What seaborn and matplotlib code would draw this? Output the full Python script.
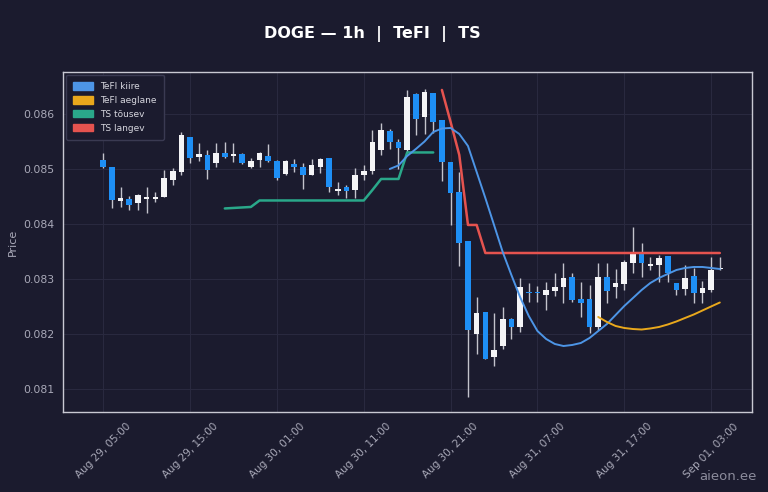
import numpy as np
import pandas as pd
import matplotlib
matplotlib.use("Agg")
import matplotlib.pyplot as plt
import matplotlib.patches as mpatches
import seaborn as sns

# ---------------- data ----------------
start_time = "2024-08-29 05:00"
n_candles = 72

opens = [0.085169, 0.085042, 0.084424, 0.084460, 0.084388, 0.084460, 0.084460, 0.084497, 0.084806, 0.084951,
         0.085587, 0.085224, 0.085260, 0.085115, 0.085296, 0.085242, 0.085278, 0.085042, 0.085169, 0.085242,
         0.085151, 0.084915, 0.085097, 0.085042, 0.084897, 0.085042, 0.085206, 0.084606, 0.084678, 0.084624,
         0.084897, 0.084969, 0.085351, 0.085696, 0.085496, 0.085351, 0.086369, 0.085951, 0.086378, 0.085896,
         0.085133, 0.084587, 0.083697, 0.082006, 0.082405, 0.081587, 0.081787, 0.082278, 0.082133, 0.082769,
         0.082769, 0.082715, 0.082787, 0.082860, 0.083042, 0.082642, 0.082642, 0.082133, 0.083042, 0.082860,
         0.082915, 0.083297, 0.083460, 0.083242, 0.083260, 0.083424, 0.082933, 0.082824, 0.083060, 0.082751,
         0.082806, 0.083187]
closes = [0.085042, 0.084442, 0.084478, 0.084351, 0.084533, 0.084497, 0.084497, 0.084842, 0.084969, 0.085624,
          0.085206, 0.085278, 0.084988, 0.085296, 0.085224, 0.085278, 0.085115, 0.085151, 0.085296, 0.085151,
          0.084842, 0.085151, 0.085042, 0.084897, 0.085078, 0.085187, 0.084678, 0.084642, 0.084606, 0.084897,
          0.084969, 0.085496, 0.085706, 0.085505, 0.085387, 0.086306, 0.085915, 0.086405, 0.085851, 0.085133,
          0.084569, 0.083660, 0.082078, 0.082387, 0.081551, 0.081715, 0.082278, 0.082133, 0.082860, 0.082751,
          0.082751, 0.082806, 0.082860, 0.083024, 0.082624, 0.082569, 0.082133, 0.083042, 0.082787, 0.082933,
          0.083315, 0.083460, 0.083297, 0.083278, 0.083387, 0.083115, 0.082806, 0.083024, 0.082751, 0.082842,
          0.083169, 0.083206]
highs = [0.085296, 0.085042, 0.084678, 0.084515, 0.084551, 0.084678, 0.084587, 0.084988, 0.085024, 0.085678,
         0.085587, 0.085478, 0.085351, 0.085478, 0.085496, 0.085478, 0.085296, 0.085206, 0.085315, 0.085460,
         0.085169, 0.085169, 0.085187, 0.085115, 0.085187, 0.085206, 0.085206, 0.084769, 0.084715, 0.085024,
         0.085078, 0.085715, 0.085833, 0.085733, 0.085551, 0.086442, 0.086387, 0.086451, 0.086378, 0.085896,
         0.085133, 0.084951, 0.083697, 0.082678, 0.082405, 0.082387, 0.082496, 0.082297, 0.083024, 0.082933,
         0.082878, 0.082951, 0.083115, 0.083297, 0.083115, 0.082951, 0.082897, 0.083297, 0.083297, 0.083187,
         0.083351, 0.083951, 0.083660, 0.083406, 0.083442, 0.083424, 0.082933, 0.083260, 0.083206, 0.082969,
         0.083406, 0.083406]
lows = [0.085024, 0.084297, 0.084315, 0.084260, 0.084260, 0.084206, 0.084406, 0.084497, 0.084715, 0.084897,
        0.085115, 0.085151, 0.084824, 0.085042, 0.085206, 0.085133, 0.085097, 0.085024, 0.085042, 0.085133,
        0.084806, 0.084897, 0.084951, 0.084642, 0.084897, 0.084933, 0.084587, 0.084533, 0.084478, 0.084478,
        0.084806, 0.084915, 0.085260, 0.085369, 0.085006, 0.085315, 0.085624, 0.085642, 0.085651, 0.084787,
        0.083988, 0.083242, 0.080860, 0.081642, 0.081551, 0.081424, 0.081733, 0.081915, 0.082042, 0.082587,
        0.082587, 0.082442, 0.082696, 0.082569, 0.082587, 0.082315, 0.082024, 0.082078, 0.082569, 0.082660,
        0.082806, 0.083115, 0.083042, 0.083169, 0.082951, 0.082951, 0.082715, 0.082715, 0.082569, 0.082569,
        0.082769, 0.083169]

# TeFI kiire (fast) — candles 33..71
fast_start = 33
fast_vals = [0.085006, 0.085070, 0.085242, 0.085369, 0.085505, 0.085678, 0.085742, 0.085751, 0.085642, 0.085424,
             0.084951, 0.084478, 0.083988, 0.083496, 0.083078, 0.082678, 0.082333, 0.082060, 0.081915, 0.081824,
             0.081787, 0.081806, 0.081842, 0.081933, 0.082060, 0.082187, 0.082351, 0.082515, 0.082660, 0.082806,
             0.082933, 0.083024, 0.083097, 0.083169, 0.083206, 0.083224, 0.083224, 0.083206, 0.083187]
# TeFI aeglane (slow) — candles 57..71
slow_start = 57
slow_vals = [0.082315, 0.082224, 0.082151, 0.082115, 0.082096, 0.082087, 0.082106, 0.082133, 0.082178, 0.082233,
             0.082297, 0.082360, 0.082433, 0.082506, 0.082578]
# TS tõusev (rising) — candles 14..38
up_start = 14
up_vals = [0.084288, 0.084297, 0.084306, 0.084315, 0.084433, 0.084433, 0.084433, 0.084433, 0.084433, 0.084433,
           0.084433, 0.084433, 0.084433, 0.084433, 0.084433, 0.084433, 0.084433, 0.084624, 0.084824, 0.084824,
           0.084824, 0.085306, 0.085306, 0.085306, 0.085306]
# TS langev (falling) — candles 39..71
down_start = 39
down_vals = [0.086442, 0.085860, 0.085260, 0.083988, 0.083988] + [0.083478] * 28

tick_labels = ["Aug 29, 05:00", "Aug 29, 15:00", "Aug 30, 01:00", "Aug 30, 11:00",
               "Aug 30, 21:00", "Aug 31, 07:00", "Aug 31, 17:00", "Sep 01, 03:00"]
y_ticks = [0.081, 0.082, 0.083, 0.084, 0.085, 0.086]

# ---------------- style ----------------
BG = "#1b1b2e"
GRID = "#2a2a40"
SPINE = "#c9c9d3"
TXT = "#a9a9b8"
UP = "#f4f4f6"
DOWN = "#1e8ff5"
WICK = "#c3c3cc"
C_FAST = "#4d95e6"
C_SLOW = "#e9a81c"
C_UP = "#2aa88a"
C_DOWN = "#e5534f"

sns.set_theme(style="darkgrid")
plt.rcParams.update({
    "font.family": ["DejaVu Sans"],
    "figure.facecolor": BG,
    "axes.facecolor": BG,
    "axes.edgecolor": SPINE,
    "grid.color": GRID,
    "text.color": "#ffffff",
    "xtick.color": TXT,
    "ytick.color": TXT,
})

fig = plt.figure(figsize=(7.68, 4.92), dpi=100)
ax = fig.add_axes([0.0824, 0.162, 0.8967, 0.6917])

times = pd.date_range(start_time, periods=n_candles, freq="h")
df = pd.DataFrame({"time": times, "open": opens, "high": highs, "low": lows, "close": closes})
is_up = df["close"] >= df["open"]
body_w = pd.Timedelta(minutes=39)

# wicks
ax.vlines(df["time"], df["low"], df["high"], color=WICK, linewidth=1.0, zorder=2)
# bodies
bottoms = np.minimum(df["open"], df["close"])
heights = np.maximum(np.abs(df["close"] - df["open"]), 0.000012)
ax.bar(df["time"], heights, bottom=bottoms, width=body_w,
       color=np.where(is_up, UP, DOWN), edgecolor="none", zorder=3, align="center")

# indicator lines
def seg(start, vals):
    return pd.DataFrame({"time": times[start:start + len(vals)], "val": vals})

sns.lineplot(data=seg(up_start, up_vals), x="time", y="val", color=C_UP, linewidth=1.8, ax=ax, zorder=4)
sns.lineplot(data=seg(down_start, down_vals), x="time", y="val", color=C_DOWN, linewidth=1.8, ax=ax, zorder=4)
sns.lineplot(data=seg(fast_start, fast_vals), x="time", y="val", color=C_FAST, linewidth=1.4, ax=ax, zorder=5)
sns.lineplot(data=seg(slow_start, slow_vals), x="time", y="val", color=C_SLOW, linewidth=1.4, ax=ax, zorder=5)

# axes limits / ticks
ax.set_xlim(times[0] - pd.Timedelta(hours=4.6), times[0] + pd.Timedelta(hours=74.7))
ax.set_ylim(0.080582, 0.086769)
tick_pos = [pd.to_datetime("2024 " + t, format="%Y %b %d, %H:%M") for t in tick_labels]
ax.set_xticks(tick_pos)
ax.set_xticklabels(tick_labels, rotation=45, ha="center", fontsize=7.5)
ax.set_yticks(y_ticks)
ax.set_yticklabels([f"{v:.3f}" for v in y_ticks], fontsize=7.8)
ax.tick_params(axis="both", length=3.5, width=0.8, color=SPINE, pad=3)
ax.set_xlabel("")
ax.set_ylabel("Price", color=TXT, fontsize=8)
ax.grid(True, color=GRID, linewidth=0.7)
for s in ax.spines.values():
    s.set_visible(True)
    s.set_color(SPINE)
    s.set_linewidth(1.0)

# legend
handles = [mpatches.Patch(color=C_FAST, label="TeFI kiire"),
           mpatches.Patch(color=C_SLOW, label="TeFI aeglane"),
           mpatches.Patch(color=C_UP, label="TS tõusev"),
           mpatches.Patch(color=C_DOWN, label="TS langev")]
leg = ax.legend(handles=handles, loc="upper left", fontsize=6.5, frameon=True,
                facecolor=BG, edgecolor="#3a3a52", framealpha=1.0,
                handlelength=2.2, handleheight=0.9, labelspacing=0.55, borderpad=0.8,
                borderaxespad=0.3)
for t in leg.get_texts():
    t.set_color("#d6d6de")

fig.suptitle("DOGE — 1h  |  TeFI  |  TS", x=0.485, y=0.948, fontsize=11.5,
             fontweight="bold", color="#ffffff")
fig.text(0.985, 0.032, "aieon.ee", ha="right", va="center", fontsize=9.5, color="#8c8c9c")

fig.savefig("out.png", dpi=100, facecolor=BG)
